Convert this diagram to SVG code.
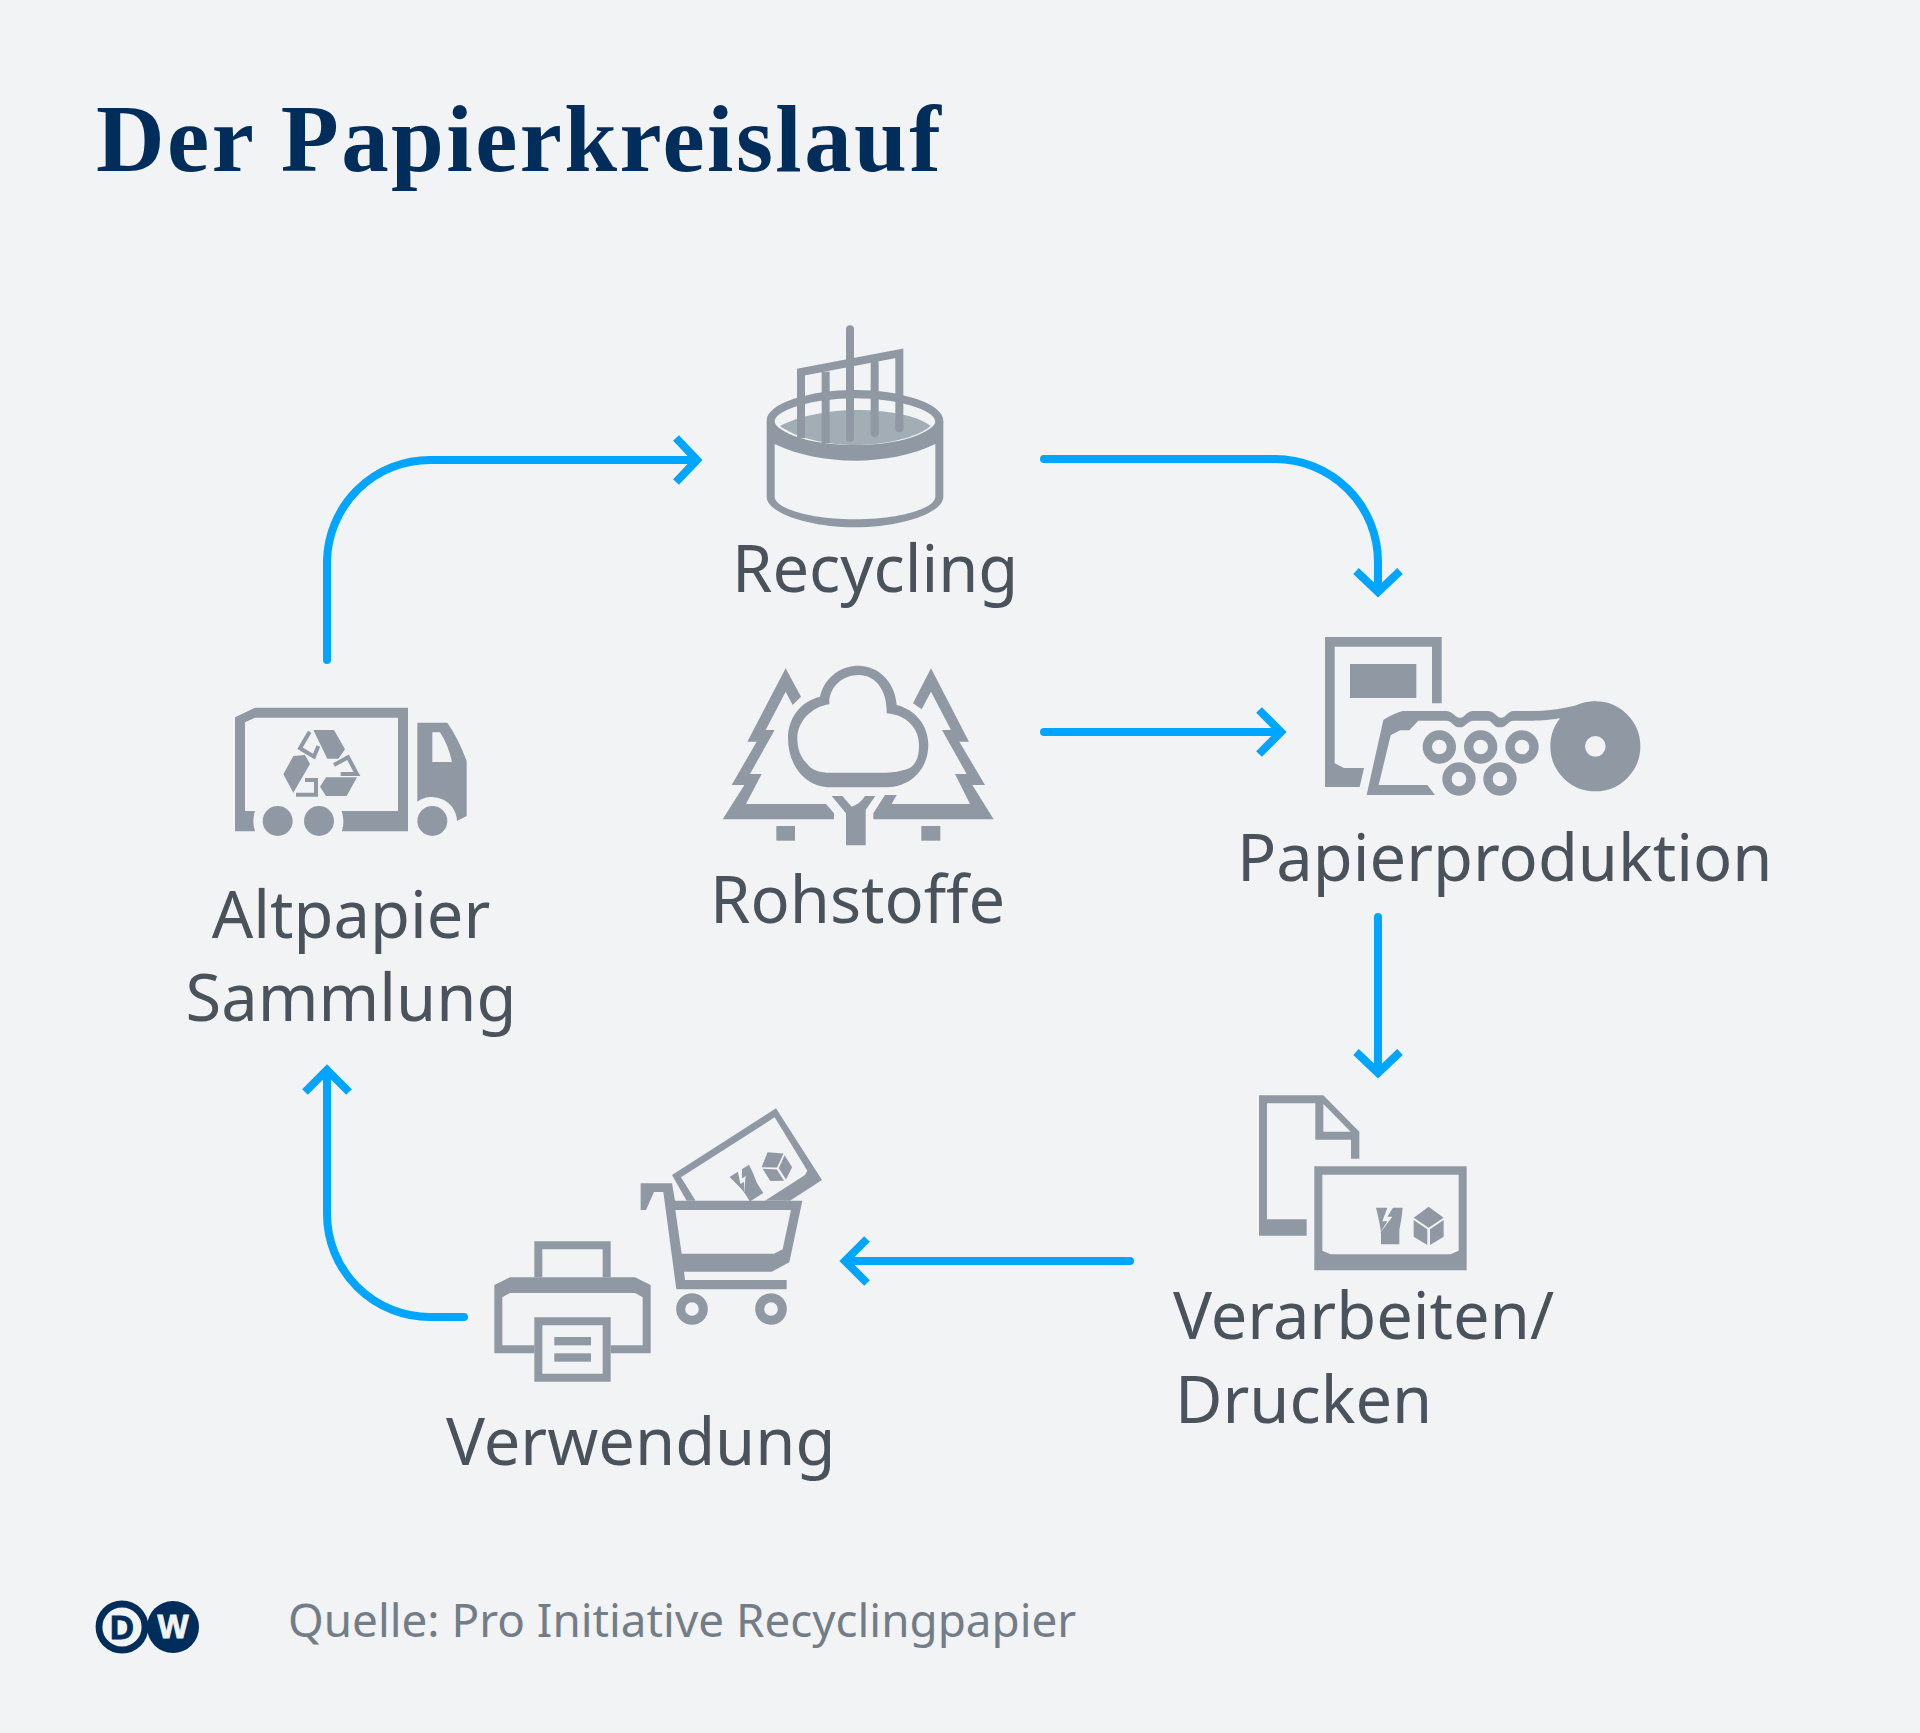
<svg xmlns="http://www.w3.org/2000/svg" xmlns:xlink="http://www.w3.org/1999/xlink" width="1920" height="1733" viewBox="0 0 1920 1733">
<style>
.bg{fill:#f2f3f5}
.i{fill:#9099a3;fill-rule:evenodd}
.s{fill:none;stroke:#9099a3}
.a{fill:none;stroke:#00a5ff;stroke-width:8;stroke-linecap:round}
.c{fill:none;stroke:#00a5ff;stroke-width:8;stroke-linecap:butt;stroke-linejoin:miter}
.l{font-family:"Noto Sans","Open Sans",sans-serif;font-size:65px;fill:#4a525b}
.t{font-family:"Liberation Serif",serif;font-weight:700;font-size:95px;fill:#002d5a}
.q{font-family:"Noto Sans","Open Sans",sans-serif;font-size:45.8px;fill:#727d87}
.lg{font-family:"Liberation Sans",sans-serif;font-weight:700;font-size:33px;stroke-width:.9}
</style>
<defs>
<g id="glyphs">
<path class="i" d="M408 383H488Q485 420 478 450V493H423V460Q422 440 408 383ZM442 383L427 424H442L418 462L457 410H442L459 383Z"/>
<path class="i" d="M521 413L566 380L611 413L566 443ZM521 420L562 448V495L521 470ZM611 420L570 448V495L611 470Z"/>
</g>
</defs>
<rect class="bg" width="1920" height="1733"/>
<text class="t" x="96" y="171" textLength="845" lengthAdjust="spacing">Der Papierkreislauf</text>

<g id="connectors">
<path class="a" d="M327 660V561A103 103 0 0 1 430 460H694"/><path class="c" d="M676 438L697 460L676 482"/>
<path class="a" d="M1044 459H1275A103 103 0 0 1 1378 562V590"/><path class="c" d="M1356 571L1378 592L1400 571"/>
<path class="a" d="M1044 732H1278M1044 732"/><path class="c" d="M1259 710L1281 732L1259 754"/>
<path class="a" d="M1378 917V1070"/><path class="c" d="M1356 1052L1378 1073L1400 1052"/>
<path class="a" d="M1130 1261H848"/><path class="c" d="M867 1239L845 1261L867 1283"/>
<path class="a" d="M464 1317H430A103 103 0 0 1 327 1214V1073"/><path class="c" d="M305 1092L327 1070L349 1092"/>
</g>

<g id="recycling">
<g transform="translate(700 300) scale(.33333)">
<path fill="#a3adb6" d="M240 378C300 345 400 330 465 330C560 330 650 345 692 378C650 415 550 435 465 435C380 435 290 415 240 378Z"/>
<path class="i" d="M200 362C200 310 330 270 465 270C600 270 730 310 730 362V590C730 640 600 682 465 682C330 682 200 640 200 590ZM224 365C224 385 300 435 465 435C630 435 706 385 706 365C706 330 590 295 465 295C340 295 224 330 224 365ZM224 432V590C224 625 330 658 465 658C600 658 706 625 706 590V432C640 465 550 482 465 482C380 482 290 465 224 432Z"/>
<path class="s" stroke-width="24" d="M303 415V216L598 160V385"/>
<path class="s" stroke-width="24" d="M377 215V430"/>
<path class="s" stroke-width="24" stroke-linecap="round" d="M450 88V413M524 190V399M598 370V385"/>
</g>
<text class="l" x="732" y="592">Recycling</text>
</g>

<g id="papierproduktion">
<g transform="translate(1300 620) scale(.33333)">
<path class="i" d="M75 51H425V250H396V80H104V430L132 444H192L179 501H75Z"/>
<rect class="i" x="150" y="132" width="199" height="102"/>
<path class="i" d="M200 525L250 300Q280 280 308 273H440C460 275 465 293 480 293C495 293 500 273 520 273H565C585 275 590 293 603 293C618 293 625 273 640 273H700C770 273 830 255 885 243L900 290L780 295C740 302 710 302 700 302H640C625 302 620 322 600 322C580 322 575 302 565 302H520C505 302 495 322 480 322C460 322 455 302 440 302H355L328 331H300L272 346L236 495H382L405 525Z"/>
<g class="s" stroke-width="28"><circle cx="418" cy="381" r="36"/><circle cx="542" cy="381" r="36"/><circle cx="666" cy="381" r="36"/><circle cx="477" cy="477" r="36"/><circle cx="600" cy="477" r="36"/></g>
<circle cx="886" cy="379" r="83" fill="none" stroke="#9099a3" stroke-width="104"/>
</g>
<text class="l" x="1237" y="881">Papierproduktion</text>
</g>

<g id="rohstoffe">
<g transform="translate(700 650) scale(.33333)">
<path class="i" d="M257 55L303 140L278 165L257 125L197 240H224L150 372H185L138 462H378L402 490V508H68L133 405H95L170 275H142Z"/>
<path class="i" d="M693 55L639 160L665 178L693 125L753 240H726L800 372H765L810 462H575L590 435H555L520 490V508H881L817 405H855L778 275H807Z"/>
<path class="i" d="M360 140C375 75 430 47 475 47C530 47 585 90 590 165C650 180 685 230 685 285C685 350 640 410 560 412H390C320 412 264 350 264 265C264 205 300 155 360 140ZM388 163C385 110 430 75 475 75C530 75 562 125 560 190C620 195 657 235 657 285C657 320 650 340 628 355C600 365 580 368 560 368H380C350 365 335 360 320 340C300 320 292 295 292 265C292 215 335 170 388 163Z"/>
<path class="i" d="M395 438H427L455 470Q480 462 495 438H526L497 480V586H438V490Z"/>
<rect class="i" x="229" y="528" width="56" height="44"/><rect class="i" x="664" y="528" width="57" height="44"/>
</g>
<text class="l" x="710" y="923">Rohstoffe</text>
</g>

<g id="altpapier">
<g transform="translate(210 680) scale(.33333)">
<path class="i" d="M75 112L135 83H594V454H396Q405 423 395 393H564V113H135L105 127V393H135Q125 423 135 454H75Z"/>
<circle class="i" cx="203" cy="423" r="45"/><circle class="i" cx="327" cy="423" r="45"/><circle class="i" cx="667" cy="423" r="45"/>
<path class="i" d="M622 128H712Q745 175 770 243V408L741 423A75 75 0 0 0 622 365ZM667 157V246H726Q715 195 690 157Z"/>
<path class="i" d="M310 150H372L405 208L385 236H352ZM220 283L250 228L285 225L300 252L250 338ZM330 320L348 292H441L410 348H348Z"/>
<path class="s" stroke-width="12" d="M299 155L270 205L312 230L325 198M372 255L414 232L441 282H392M258 344H318V300H285"/>
</g>
<text class="l" x="351" y="938" text-anchor="middle">Altpapier</text>
<text class="l" x="351" y="1021" text-anchor="middle">Sammlung</text>
</g>

<g id="verarbeiten">
<g transform="translate(1240 1080) scale(.33333)">
<path class="i" d="M57 46H250L358 155V236H333V179H226V70H81V418H200V467H57ZM250 72V155H332Z"/>
<path class="i" d="M223 259H680V571H223ZM247 284V512L272 523H632L656 512V284Z"/>
<use href="#glyphs" xlink:href="#glyphs"/>
</g>
<text class="l" x="1173" y="1339">Verarbeiten/</text>
<text class="l" x="1175" y="1423">Drucken</text>
</g>

<g id="verwendung">
<g transform="translate(480 1100) scale(.33333)">
<path class="i" d="M163 424H392V532H368V448H187V532H163Z"/>
<path class="i" d="M43 555L90 532H465L512 555V760H392V736H488V592L465 579H90L67 592V736H163V760H43Z"/>
<path class="i" d="M163 652H392V845H163ZM187 676V821H368V676Z"/>
<rect class="i" x="223" y="711" width="110" height="25"/><rect class="i" x="223" y="760" width="110" height="25"/>
<path class="i" d="M482 250H576L585 302H967L928 487L875 515H612L615 540H920V568H589L550 276H522L498 330H482ZM586 330L605 461H882L908 448L933 330Z"/>
<circle class="s" cx="636" cy="627" r="34" stroke-width="27"/><circle class="s" cx="873" cy="627" r="34" stroke-width="27"/>
<path class="i" d="M576 225L888 25L1026 240L930 302H855L975 225L982 212L884 52L603 232L647 302H620Z"/>
<use href="#glyphs" xlink:href="#glyphs" transform="translate(846 226) rotate(-32) scale(.86) translate(-507 -438)"/>
</g>
<text class="l" x="446" y="1465">Verwendung</text>
</g>

<g id="logo">
<circle cx="173" cy="1627" r="26" fill="#002d5a"/>
<circle cx="122" cy="1627" r="23" fill="#f2f3f5" stroke="#002d5a" stroke-width="6.8"/>
<text class="lg" x="122" y="1639" text-anchor="middle" fill="#002d5a" stroke="#002d5a">D</text>
<text class="lg" x="173" y="1638" text-anchor="middle" fill="#f2f3f5" stroke="#f2f3f5">W</text>
</g>
<text class="q" x="288" y="1637">Quelle: Pro Initiative Recyclingpapier</text>
</svg>
